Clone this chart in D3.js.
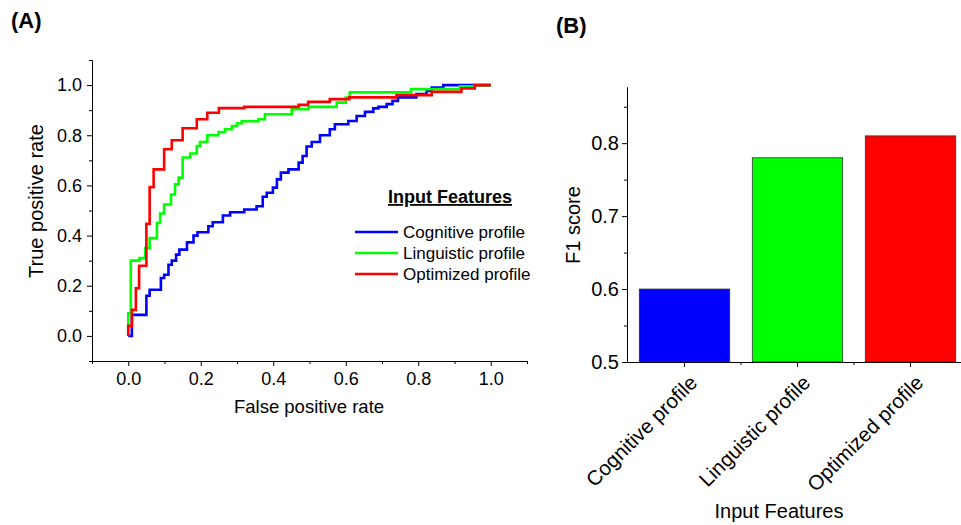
<!DOCTYPE html>
<html>
<head>
<meta charset="utf-8">
<script src="https://cdn.jsdelivr.net/npm/d3@7"></script>
<style>
  body { margin: 0; background: #fff; }
  svg { display: block; font-family: Arial, "Liberation Sans", sans-serif; }
</style>
</head>
<body>
<div id="chart"></div>
<script>
// ── Panel A: ROC curves (points at the top of each step) ──
const fprCognitive = [0, 0.01, 0.05, 0.059, 0.09, 0.099, 0.111, 0.12, 0.132, 0.141, 0.162, 0.18, 0.191, 0.221, 0.233, 0.261, 0.281, 0.32, 0.354, 0.371, 0.382, 0.399, 0.41, 0.421, 0.442, 0.47, 0.481, 0.492, 0.506, 0.529, 0.556, 0.57, 0.607, 0.63, 0.653, 0.676, 0.69, 0.713, 0.729, 0.744, 0.795, 0.823, 0.837, 0.869, 1.0];
const tprCognitive = [0, 0.084, 0.16, 0.184, 0.231, 0.244, 0.284, 0.3, 0.324, 0.344, 0.373, 0.4, 0.413, 0.437, 0.453, 0.48, 0.493, 0.504, 0.517, 0.555, 0.571, 0.591, 0.624, 0.651, 0.664, 0.691, 0.717, 0.755, 0.773, 0.8, 0.824, 0.844, 0.857, 0.877, 0.893, 0.907, 0.913, 0.924, 0.937, 0.951, 0.964, 0.977, 0.99, 1.0, 1.0];

const fprLinguistic = [0, 0, 0.007, 0.031, 0.047, 0.059, 0.079, 0.088, 0.099, 0.118, 0.129, 0.139, 0.15, 0.171, 0.189, 0.198, 0.218, 0.249, 0.267, 0.286, 0.3, 0.313, 0.359, 0.377, 0.451, 0.497, 0.575, 0.6, 0.611, 0.78, 0.915, 0.956, 1.0];
const tprLinguistic = [0, 0.09, 0.3, 0.31, 0.35, 0.39, 0.45, 0.488, 0.524, 0.564, 0.604, 0.631, 0.711, 0.727, 0.757, 0.773, 0.8, 0.813, 0.824, 0.837, 0.848, 0.856, 0.864, 0.884, 0.904, 0.913, 0.93, 0.95, 0.971, 0.984, 0.995, 1.0, 1.0];

const fprOptimized = [0, 0, 0.01, 0.021, 0.03, 0.05, 0.059, 0.07, 0.099, 0.12, 0.15, 0.189, 0.218, 0.25, 0.32, 0.47, 0.496, 0.556, 0.61, 0.74, 0.837, 0.919, 0.956, 1.0];
const tprOptimized = [0, 0.04, 0.104, 0.19, 0.28, 0.447, 0.593, 0.664, 0.744, 0.78, 0.828, 0.864, 0.89, 0.908, 0.913, 0.921, 0.933, 0.944, 0.951, 0.96, 0.973, 0.987, 1.0, 1.0];

const rocTicks = [0, 0.2, 0.4, 0.6, 0.8, 1.0];
const rocMinor = [-0.1, 0.1, 0.3, 0.5, 0.7, 0.9, 1.1];

// ── Panel B: F1 scores ──
const categories = ['Cognitive profile', 'Linguistic profile', 'Optimized profile'];
const f1Scores = [0.60, 0.78, 0.81];
const f1Ticks = [0.5, 0.6, 0.7, 0.8];
const f1Minor = [0.55, 0.65, 0.75, 0.85];

const colors = ['#0000ff', '#00ff00', '#ff0000'];

const svg = d3.select('#chart').append('svg')
  .attr('width', 961).attr('height', 525);

svg.append('rect').attr('width', 961).attr('height', 525).attr('fill', '#fff');

// Panel labels
svg.append('text').attr('x', 11).attr('y', 28)
  .style('font-size', '22px').style('font-weight', 'bold').text('(A)');
svg.append('text').attr('x', 556).attr('y', 33)
  .style('font-size', '22px').style('font-weight', 'bold').text('(B)');

// ── ROC panel ──
const xA = d3.scaleLinear().domain([-0.1, 1.1]).range([92, 527]);
const yA = d3.scaleLinear().domain([-0.1, 1.1]).range([361, 60]);

function styleAxis(g, size) {
  g.selectAll('path, line').attr('stroke', '#000').attr('stroke-width', 1);
  g.selectAll('text').attr('fill', '#000').style('font-size', size).style('font-family', 'Arial, "Liberation Sans", sans-serif');
}

svg.append('g').attr('transform', `translate(0,${yA.range()[0]})`)
  .call(d3.axisBottom(xA).tickValues(rocMinor).tickSize(3).tickSizeOuter(0).tickFormat(''))
  .call(g => styleAxis(g, '18px'));
svg.append('g').attr('transform', `translate(0,${yA.range()[0]})`)
  .call(d3.axisBottom(xA).tickValues(rocTicks).tickSize(5).tickSizeOuter(0).tickPadding(6).tickFormat(d3.format('.1f')))
  .call(g => styleAxis(g, '18px'));

svg.append('g').attr('transform', `translate(${xA.range()[0]},0)`)
  .call(d3.axisLeft(yA).tickValues(rocMinor).tickSize(3).tickSizeOuter(0).tickFormat(''))
  .call(g => styleAxis(g, '18px'));
svg.append('g').attr('transform', `translate(${xA.range()[0]},0)`)
  .call(d3.axisLeft(yA).tickValues(rocTicks).tickSize(5).tickSizeOuter(0).tickPadding(5).tickFormat(d3.format('.1f')))
  .call(g => styleAxis(g, '18px'));

svg.append('text')
  .attr('x', 309).attr('y', 413).attr('text-anchor', 'middle')
  .style('font-size', '18.5px').text('False positive rate');
svg.append('text')
  .attr('transform', 'translate(43,201) rotate(-90)').attr('text-anchor', 'middle')
  .style('font-size', '20px').text('True positive rate');

const rocSeries = [
  { name: 'Cognitive profile', fpr: fprCognitive, tpr: tprCognitive },
  { name: 'Linguistic profile', fpr: fprLinguistic, tpr: tprLinguistic },
  { name: 'Optimized profile', fpr: fprOptimized, tpr: tprOptimized }
];

const line = d3.line()
  .x(d => xA(d[0]))
  .y(d => yA(d[1]))
  .curve(d3.curveStepAfter);

rocSeries.forEach((s, i) => {
  svg.append('path')
    .datum(s.fpr.map((f, j) => [f, s.tpr[j]]))
    .attr('fill', 'none')
    .attr('stroke', colors[i])
    .attr('stroke-width', 2.6)
    .attr('d', line);
});

// Legend
const legend = svg.append('g');
legend.append('text')
  .attr('x', 450).attr('y', 203).attr('text-anchor', 'middle')
  .style('font-size', '18px').style('font-weight', 'bold')
  .style('text-decoration', 'underline').text('Input Features');
rocSeries.forEach((s, i) => {
  legend.append('line')
    .attr('x1', 355).attr('x2', 398)
    .attr('y1', 232 + i * 21).attr('y2', 232 + i * 21)
    .attr('stroke', colors[i]).attr('stroke-width', 2.6);
  legend.append('text')
    .attr('x', 403).attr('y', 238 + i * 21)
    .style('font-size', '17px').text(s.name);
});

// ── F1 panel ──
const xB = d3.scaleBand().domain(categories).range([628, 967])
  .paddingInner(0.2).paddingOuter(0.1);
const yB = d3.scaleLinear().domain([0.5, 0.877]).range([362, 87]);

svg.selectAll('rect.bar')
  .data(categories)
  .enter()
  .append('rect')
  .attr('class', 'bar')
  .attr('x', d => xB(d))
  .attr('y', (d, i) => yB(f1Scores[i]))
  .attr('width', xB.bandwidth())
  .attr('height', (d, i) => yB(0.5) - yB(f1Scores[i]))
  .attr('fill', (d, i) => colors[i])
  .attr('stroke', '#333')
  .attr('stroke-width', 0.8);

svg.append('g').attr('transform', `translate(${xB.range()[0] - 1},0)`)
  .call(d3.axisLeft(yB).tickValues(f1Minor).tickSize(3).tickSizeOuter(0).tickFormat(''))
  .call(g => styleAxis(g, '20px'));
svg.append('g').attr('transform', `translate(${xB.range()[0] - 1},0)`)
  .call(d3.axisLeft(yB).tickValues(f1Ticks).tickSize(5).tickSizeOuter(0).tickPadding(3).tickFormat(d3.format('.1f')))
  .call(g => styleAxis(g, '20px'));

const xAxisB = svg.append('g').attr('transform', `translate(0,${yB(0.5)})`)
  .call(d3.axisBottom(xB).tickSize(5).tickSizeOuter(0).tickFormat(''))
  .call(g => styleAxis(g, '20px'));
xAxisB.select('.domain').attr('d', `M${xB.range()[0] - 1},0.5H961`);

// minor ticks between the bars
categories.slice(1).forEach(c => {
  const mx = xB(c) - xB.step() * xB.paddingInner() / 2;
  xAxisB.append('line')
    .attr('x1', mx).attr('x2', mx).attr('y1', 0).attr('y2', 3)
    .attr('stroke', '#000');
});

// rotated category labels
svg.selectAll('text.cat')
  .data(categories)
  .enter()
  .append('text')
  .attr('class', 'cat')
  .attr('text-anchor', 'end')
  .attr('transform', d => `translate(${xB(d) + xB.bandwidth() / 2 + 14},384) rotate(-45)`)
  .style('font-size', '20.5px')
  .text(d => d);

svg.append('text')
  .attr('x', 779).attr('y', 518).attr('text-anchor', 'middle')
  .style('font-size', '20px').text('Input Features');
svg.append('text')
  .attr('transform', 'translate(580,225) rotate(-90)').attr('text-anchor', 'middle')
  .style('font-size', '20px').text('F1 score');
</script>
</body>
</html>
